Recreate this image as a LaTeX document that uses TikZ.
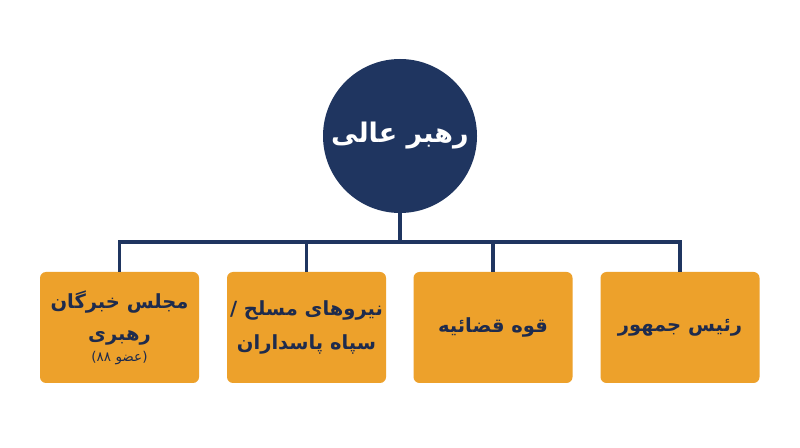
\documentclass[tikz,border=0pt]{standalone}
\usepackage{fontspec}
\TeXXeTstate=1
\newfontfamily\fa[Script=Arabic]{DejaVu Sans}
\newfontfamily\lat{DejaVu Sans}
\definecolor{navy}{HTML}{1F3560}
\definecolor{boxor}{HTML}{EDA12B}
\definecolor{txt}{HTML}{1E2B4D}
\tikzset{
  orgbox/.style={fill=boxor, rounded corners=6pt, minimum width=159pt, minimum height=111pt,
    inner sep=0pt, align=center, text=txt, font=\fa\bfseries\fontsize{19.5}{34}\selectfont},
  link/.style={draw=navy, line width=3.3pt}
}
\begin{document}
\begin{tikzpicture}[x=1pt,y=1pt]
\useasboundingbox (0,0) rectangle (800,447);
\fill[white] (0,0) rectangle (800,447);
\node[circle, fill=navy, minimum size=154pt, inner sep=0pt, text=white,
  font=\fa\bfseries\fontsize{27}{32}\selectfont] (top) at (400,311) {\beginR رهبر عالی\endR};
\node[orgbox] (b1) at (119.5,119.5) {\beginR مجلس خبرگان\endR\\[-2pt]\beginR رهبری\endR\\[-13pt]{\fontsize{13.5}{15}\selectfont\mdseries\lat(\fa\beginR عضو ۸۸\endR\lat)}};
\node[orgbox] (b2) at (306.5,119.5) {\beginR نیروهای مسلح /\endR\\\beginR سپاه پاسداران\endR};
\node[orgbox] (b3) at (493,119.5) {\beginR قوه قضائیه\endR};
\node[orgbox] (b4) at (680,119.5) {\beginR رئیس جمهور\endR};
\coordinate (hub) at (400,205);
\draw[link] (top.south) -- (hub);
\draw[link] (b1.north) |- (hub) -| (b4.north);
\draw[link] (b2.north) -- (b2.north |- hub);
\draw[link] (b3.north) -- (b3.north |- hub);
\end{tikzpicture}
\end{document}
